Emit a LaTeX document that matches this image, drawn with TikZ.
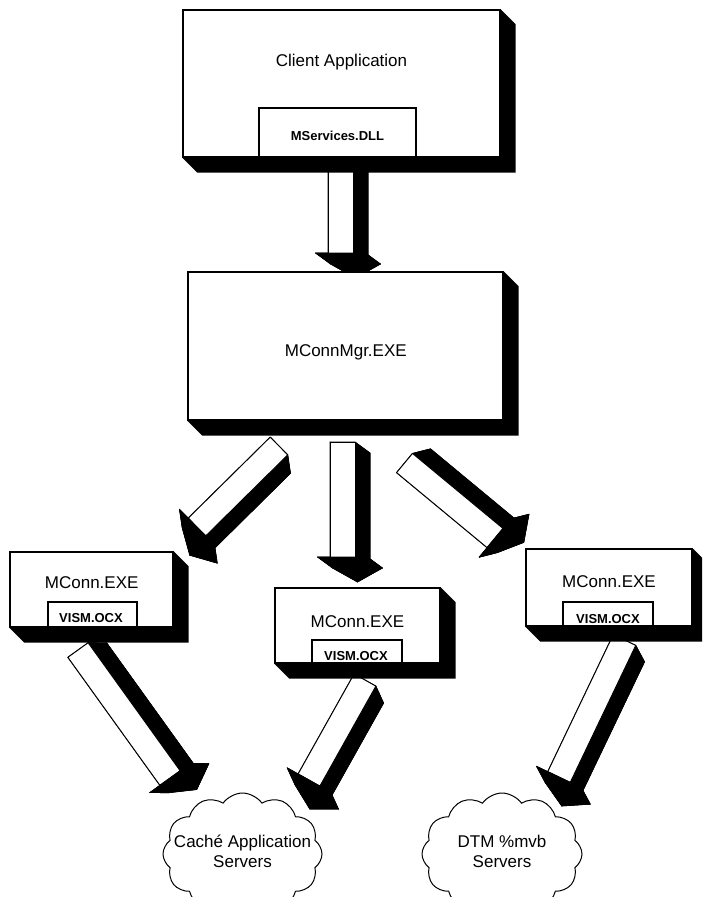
\documentclass[tikz,border=0pt]{standalone}
\usepackage{fontspec}
\setmainfont{Liberation Sans}
\usetikzlibrary{calc,shapes.symbols}
\pgfdeclarelayer{back}
\pgfdeclarelayer{bg}
\pgfsetlayers{back,bg,main}

\tikzset{
  box/.style={draw=black, line width=1.3pt, fill=white, inner sep=0pt},
  innerbox/.style={draw=black, line width=1.1pt, fill=white, inner sep=0pt},
  lbl/.style={font=\fontsize{17}{20}\selectfont, inner sep=0pt, anchor=base},
  sublbl/.style={font=\bfseries\fontsize{13}{15}\selectfont, inner sep=0pt, anchor=base},
  cloudnode/.style={cloud, draw=black, line width=1pt, cloud puffs=12, cloud puff arc=110, aspect=1.4, inner sep=0pt},
  arrowface/.style={fill=white, draw=black, line width=1pt, line join=round},
  arrowdark/.style={fill=black, draw=black, line width=0.6pt, line join=round},
}

\newcommand\boxdepth[1]{%
  \fill[black] (#1.north east) -- ++(15,15) -- ($(#1.south east)+(15,15)$) -- ($(#1.south west)+(15,15)$) -- (#1.south west) -- (#1.south east) -- cycle;%
}

% block arrow: #1 name, #2 tail centre, #3 centre of the head base
\newcommand\blockarrow[3]{%
  \coordinate (#1T) at #2;
  \coordinate (#1B) at #3;
  \coordinate (#1Ox) at ($(#1T)!11pt!(#1B)$);
  \coordinate (#1O) at ($(#1Ox)!15pt!90:(#1B)$);
  \coordinate (#1p1) at ($(#1T)!12.5pt!90:(#1B)$);
  \coordinate (#1p2) at ($(#1B)!12.5pt!-90:(#1T)$);
  \coordinate (#1p3) at ($(#1B)!25pt!-90:(#1T)$);
  \coordinate (#1p4) at ($(#1B)!-14pt!(#1T)$);
  \coordinate (#1p5) at ($(#1B)!25pt!90:(#1T)$);
  \coordinate (#1p6) at ($(#1B)!12.5pt!90:(#1T)$);
  \coordinate (#1p7) at ($(#1T)!12.5pt!-90:(#1B)$);
  \foreach \i in {1,...,7}{
    \coordinate (#1q\i) at ($(#1p\i)+(#1O)-(#1T)$);
  }
  \foreach \a/\b in {1/2,2/3,3/4,4/5,5/6,6/7,7/1}{
    \path[arrowdark] (#1p\a) -- (#1p\b) -- (#1q\b) -- (#1q\a) -- cycle;
  }
  \path[arrowdark] (#1q1) -- (#1q2) -- (#1q3) -- (#1q4) -- (#1q5) -- (#1q6) -- (#1q7) -- cycle;
  \path[arrowface] (#1p1) -- (#1p2) -- (#1p6) -- (#1p7) -- cycle;
  \path[arrowdark] (#1p2) -- (#1p3) -- (#1p4) -- (#1p5) -- (#1p6) -- cycle;
}

\begin{document}
\begin{tikzpicture}[x=1pt,y=-1pt]
\useasboundingbox (0,0) rectangle (702,897);
\clip (0,0) rectangle (702,897);
\begin{pgfonlayer}{back}
  \fill[white] (0,0) rectangle (702,897);
\end{pgfonlayer}

% top box
\node[box, minimum width=317, minimum height=147] (client) at (341.5,83.5) {};
\node[innerbox, minimum width=157, minimum height=49] (dll) at (337.5,132.5) {};
\boxdepth{client}
\node[lbl] (clientlbl) at (341.5,66.7) {Client Application};
\node[sublbl] (dlllbl) at (337.5,140) {MServices.DLL};

% manager
\node[box, minimum width=315, minimum height=148] (mgr) at (345.5,346) {};
\boxdepth{mgr}
\node[lbl] (mgrlbl) at (345.8,356.7) {MConnMgr.EXE};

% left connection
\node[box, minimum width=163, minimum height=75] (c1) at (91.5,589.5) {};
\node[innerbox, minimum width=89, minimum height=25] (v1) at (92.5,614.5) {};
\boxdepth{c1}
\node[lbl] (c1lbl) at (91.7,588) {MConn.EXE};
\node[sublbl] (v1lbl) at (91,622) {VISM.OCX};

% centre connection
\node[box, minimum width=165, minimum height=75] (c2) at (357.5,625.5) {};
\node[innerbox, minimum width=90, minimum height=23] (v2) at (357,651.5) {};
\boxdepth{c2}
\node[lbl] (c2lbl) at (357.5,627) {MConn.EXE};
\node[sublbl] (v2lbl) at (356,660) {VISM.OCX};

% right connection
\node[box, minimum width=166, minimum height=77] (c3) at (609,587.5) {};
\node[innerbox, minimum width=90, minimum height=24] (v3) at (608,614) {};
\boxdepth{c3}
\node[lbl] (c3lbl) at (609,587) {MConn.EXE};
\node[sublbl] (v3lbl) at (608,623) {VISM.OCX};

% clouds
\node[cloudnode, minimum width=159, minimum height=122] (cloud1) at (242.5,854) {};
\node[lbl] (cloud1a) at (242.5,847.7) {Caché Application};
\node[lbl] (cloud1b) at (242.5,867) {Servers};
\node[cloudnode, minimum width=160, minimum height=122] (cloud2) at (502,854) {};
\node[lbl] (cloud2a) at (502,847.7) {DTM \%mvb};
\node[lbl] (cloud2b) at (502,867) {Servers};

% block arrows (behind the boxes)
\begin{pgfonlayer}{bg}
  \blockarrow{A}{(340.5,160)}{(340.5,253)}
  \blockarrow{B}{(279,446)}{(197,527)}
  \blockarrow{C}{(342.5,442)}{(342.5,557)}
  \blockarrow{D}{(404.5,463)}{(495,538)}
  \blockarrow{E}{(78,650)}{(170,778)}
  \blockarrow{F}{(365,680)}{(309,780)}
  \blockarrow{G}{(624.5,640)}{(559,777)}
\end{pgfonlayer}
\end{tikzpicture}
\end{document}
